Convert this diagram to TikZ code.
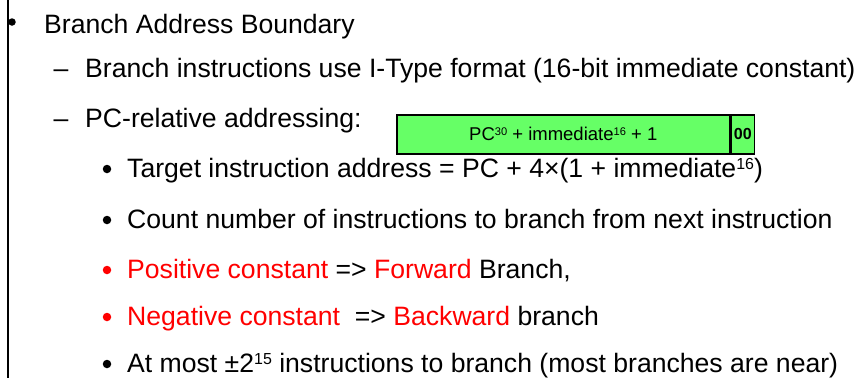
\documentclass[tikz,border=0pt]{standalone}
\usepackage{fontspec}
\usepackage{graphicx}
\setmainfont{Liberation Sans}
\usetikzlibrary{positioning}
\definecolor{fieldgreen}{RGB}{102,255,102}
\definecolor{hotred}{RGB}{255,0,0}
\tikzset{
  itemtext/.style={anchor=base west, inner sep=0pt, font=\fontsize{26.6}{26.6}\selectfont},
  dot/.style={circle, fill, inner sep=0pt, minimum size=#1},
  dot/.default=8.5pt,
  dashmark/.style={anchor=base, inner sep=0pt, font=\fontsize{26.6}{26.6}\selectfont},
  field/.style={draw, line width=1.5pt, fill=fieldgreen, inner sep=0pt,
                minimum height=39pt, font=\fontsize{18.5}{18.5}\selectfont},
}
\newcommand{\sups}[1]{\raisebox{0.3em}{\scalebox{0.6}{#1}}}

\begin{document}
\begin{tikzpicture}[x=1pt, y=-1pt]
\useasboundingbox (0,0) rectangle (859,378);

% left rule
\coordinate (ruletop) at (8,0);
\coordinate (rulebot) at (8,378);
\draw[line width=2pt] (ruletop) -- (rulebot);

% level one
\node[dot=7.5pt] (b1) at (12,22) {};
\node[itemtext] (boundary) at (44,33) {Branch Address Boundary};

% level two
\node[dashmark] (d1) at (61,77) {–};
\node[itemtext] (itype) at (85,77) {Branch instructions use I-Type format (16-bit immediate constant)};
\node[dashmark] (d2) at (61,127) {–};
\node[itemtext] (pcrel) at (85,127) {PC-relative addressing:};

% address field
\node[field, anchor=north west, minimum width=333pt] (sum) at (396,114)
      {PC\sups{30} + immediate\sups{16} + 1};
\node[field, minimum width=23pt, right=0pt of sum, font=\fontsize{16}{16}\selectfont\bfseries] (zeros) {00};

% level three
\node[dot] (b2) at (107,169) {};
\node[itemtext] (target) at (127,177) {Target instruction address = PC + 4×(1 + immediate\sups{16})};
\node[dot] (b3) at (107,220) {};
\node[itemtext] (count) at (127,228) {Count number of instructions to branch from next instruction};
\node[dot, hotred] (b4) at (107,270) {};
\node[itemtext] (forward) at (127,278) {\color{hotred}Positive constant \color{black}=> \color{hotred}Forward \color{black}Branch,};
\node[dot, hotred] (b5) at (107,317) {};
\node[itemtext] (backward) at (127,325) {\color{hotred}Negative constant \ \color{black}=> \color{hotred}Backward \color{black}branch};
\node[dot] (b6) at (107,364) {};
\node[itemtext] (near) at (127,372) {At most ±2\sups{15} instructions to branch (most branches are near)};

\end{tikzpicture}
\end{document}
